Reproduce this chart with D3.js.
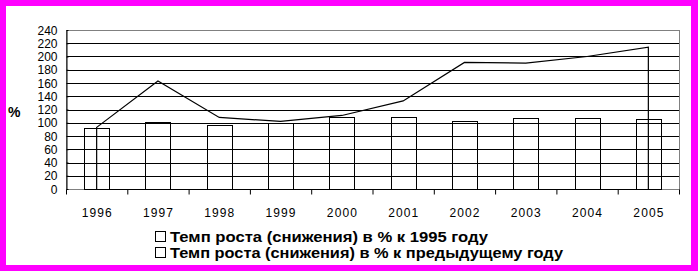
<!DOCTYPE html>
<html>
<head>
<meta charset="utf-8">
<script src="https://cdn.jsdelivr.net/npm/d3@7"></script>
<style>
  body { margin: 0; background: #ff00ff; }
  text { font-family: "Liberation Sans", Arial, sans-serif; fill: #000; }
</style>
</head>
<body>
<svg width="698" height="271"></svg>
<script>
// values
var years = ["1996", "1997", "1998", "1999", "2000", "2001", "2002", "2003", "2004", "2005"];
var toBase = [93, 163, 108, 102, 111, 133, 191, 190, 200, 214];   // к 1995 году (area outline)
var toPrev = [92, 101, 96, 99, 109, 109, 103, 107, 107, 105];     // к предыдущему году (bars)
var yTicks = [0, 20, 40, 60, 80, 100, 120, 140, 160, 180, 200, 220, 240];
var legendNames = ["Темп роста (снижения) в % к 1995 году",
                   "Темп роста (снижения) в % к предыдущему году"];

var svg = d3.select("svg");

// white card inside the magenta frame
svg.append("rect")
  .attr("x", 6).attr("y", 6).attr("width", 685).attr("height", 259)
  .style("fill", "#fff");

var plotL = 66, plotR = 679, plotT = 30, plotB = 189;

var x = d3.scaleBand().domain(years).range([plotL, plotR])
  .paddingInner(0.592).paddingOuter(0.296);
var xEdge = d3.scaleLinear().domain([0, years.length]).range([plotL, plotR]);
var y = d3.scaleLinear().domain([0, 240]).range([plotB, plotT]);

// horizontal grid
svg.append("g")
  .selectAll("line")
  .data(yTicks.filter(function(d){ return d > 0 && d < 240; }))
  .enter().append("line")
  .attr("x1", plotL).attr("x2", plotR)
  .attr("y1", function(d){ return Math.round(y(d)) + 0.5; })
  .attr("y2", function(d){ return Math.round(y(d)) + 0.5; })
  .style("stroke", "#000").style("shape-rendering", "crispEdges");

// plot frame (grey)
svg.append("rect")
  .attr("x", plotL + 0.5).attr("y", plotT + 0.5)
  .attr("width", plotR - plotL).attr("height", plotB - plotT)
  .style("fill", "none").style("stroke", "#808080")
  .style("shape-rendering", "crispEdges");

// bars: outline only
svg.append("g")
  .selectAll("rect")
  .data(toPrev)
  .enter().append("rect")
  .attr("x", function(d, i){ return Math.round(x(years[i])) + 0.5; })
  .attr("y", function(d){ return Math.round(y(d)) + 0.5; })
  .attr("width", x.bandwidth())
  .attr("height", function(d){ return Math.round(y(0)) - Math.round(y(d)); })
  .style("fill", "none").style("stroke", "#000")
  .style("shape-rendering", "crispEdges");

// area outline for the 1995-based series
var area = d3.area()
  .x(function(d, i){ return x(years[i]) + x.bandwidth() / 2; })
  .y0(y(0) + 0.5)
  .y1(function(d){ return y(d); });

svg.append("path")
  .datum(toBase)
  .attr("d", area)
  .style("fill", "none").style("stroke", "#000").style("stroke-width", 1.2);

// left axis
var yAxis = svg.append("g")
  .attr("transform", "translate(" + (plotL + 0.5) + ",0)")
  .call(d3.axisLeft(y).tickValues(yTicks).tickSize(5).tickSizeOuter(0).tickPadding(4));
yAxis.select(".domain").style("stroke", "#000");
yAxis.selectAll(".tick line").style("stroke", "#000").attr("x2", 2);
yAxis.selectAll("text").style("font-size", "12px").attr("dy", "0.34em");

// bottom axis: ticks on the category edges, labels centred
var xTickAxis = svg.append("g")
  .attr("transform", "translate(0," + (plotB + 0.5) + ")")
  .call(d3.axisBottom(xEdge).ticks(years.length).tickSize(5).tickFormat(""));
xTickAxis.select(".domain").remove();
xTickAxis.selectAll(".tick line").style("stroke", "#000");

var xLabels = svg.append("g")
  .attr("transform", "translate(0," + (plotB + 0.5) + ")")
  .call(d3.axisBottom(x).tickSize(0).tickPadding(19));
xLabels.select(".domain").remove();
xLabels.selectAll("text")
  .style("font-size", "12px")
  .attr("textLength", 30).attr("lengthAdjust", "spacing");

// "%" title
svg.append("text")
  .attr("x", 8).attr("y", 117)
  .style("font-size", "14px").style("font-weight", "bold")
  .text("%");

// legend
var legend = svg.append("g")
  .selectAll("g")
  .data(legendNames)
  .enter().append("g")
  .attr("transform", function(d, i){ return "translate(0," + (i * 16) + ")"; });

legend.append("rect")
  .attr("x", 155.5).attr("y", 231.5).attr("width", 10).attr("height", 10)
  .style("fill", "#fff").style("stroke", "#000")
  .style("shape-rendering", "crispEdges");

legend.append("text")
  .attr("x", 170).attr("y", 242)
  .style("font-size", "14px").style("font-weight", "bold")
  .attr("textLength", function(d, i){ return i === 0 ? 318 : 393; })
  .attr("lengthAdjust", "spacingAndGlyphs")
  .text(function(d){ return d; });
</script>
</body>
</html>
